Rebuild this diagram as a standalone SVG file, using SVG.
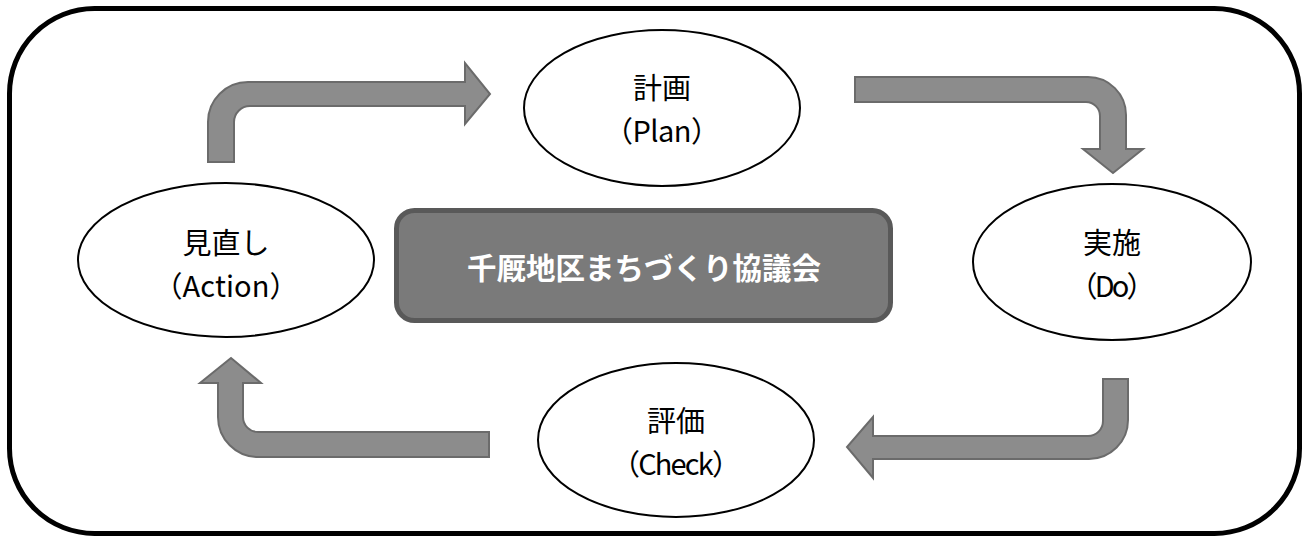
<svg xmlns="http://www.w3.org/2000/svg" width="1308" height="541" viewBox="0 0 1308 541">
<style>
.frame{fill:#fff;stroke:#000;stroke-width:5}
.ell{fill:#fff;stroke:#000;stroke-width:2}
.arr{fill:#8c8c8c;stroke:#6b6b6b;stroke-width:2;stroke-linejoin:miter}
.lbl{font-family:"Noto Sans CJK JP","Noto Sans",sans-serif;font-size:29px;fill:#000;text-anchor:middle}
.ctr{font-family:"Noto Sans CJK JP","Noto Sans",sans-serif;font-size:29.5px;font-weight:bold;fill:#fff;text-anchor:middle}
</style>
<rect x="0" y="0" width="1308" height="541" fill="#fff"/>
<rect class="frame" x="9.5" y="8.5" width="1290" height="525" rx="85" ry="85"/>
<g id="connectors">
<path class="arr" d="M208,162 L208,122 A40,40 0 0 1 248,82 L465,82 L465,63 L490,94 L465,124 L465,106 L250,106 A16,16 0 0 0 234,122 L234,162 Z"/>
<path class="arr" d="M855,77 L1088,77 A38,38 0 0 1 1126,115 L1126,149 L1143,149 L1113,173 L1083,149 L1100,149 L1100,116 A14,14 0 0 0 1086,102 L855,102 Z"/>
<path class="arr" d="M1103,379 L1128,379 L1128,420 A39,39 0 0 1 1089,459 L873,459 L873,478 L847,447 L873,417 L873,436 L1088,436 A15,15 0 0 0 1103,421 Z"/>
<path class="arr" d="M489,432 L489,457 L258,457 A40,40 0 0 1 218,417 L218,383 L200,383 L231,358 L261,383 L243,383 L243,417 A15,15 0 0 0 258,432 Z"/>
</g>
<g id="plan">
<ellipse class="ell" cx="662" cy="108" rx="138" ry="78"/>
<text class="lbl" x="662" y="99">計画</text>
<text class="lbl" x="662" y="142" textLength="116" lengthAdjust="spacing">（Plan）</text>
</g>
<g id="do">
<ellipse class="ell" cx="1112" cy="262" rx="139" ry="78"/>
<text class="lbl" x="1112" y="254">実施</text>
<text class="lbl" x="1112" y="297" textLength="87" lengthAdjust="spacing">（Do）</text>
</g>
<g id="check">
<ellipse class="ell" cx="676" cy="440" rx="138" ry="77"/>
<text class="lbl" x="676" y="432">評価</text>
<text class="lbl" x="676" y="475" textLength="130" lengthAdjust="spacing">（Check）</text>
</g>
<g id="action">
<ellipse class="ell" cx="226" cy="260" rx="148" ry="77"/>
<text class="lbl" x="226" y="254">見直し</text>
<text class="lbl" x="226" y="297" textLength="145" lengthAdjust="spacing">（Action）</text>
</g>
<g id="council">
<rect x="396.5" y="210.5" width="494" height="110" rx="18" ry="18" fill="#7a7a7a" stroke="#595959" stroke-width="5"/>
<text class="ctr" x="644" y="279">千厩地区まちづくり協議会</text>
</g>
</svg>
